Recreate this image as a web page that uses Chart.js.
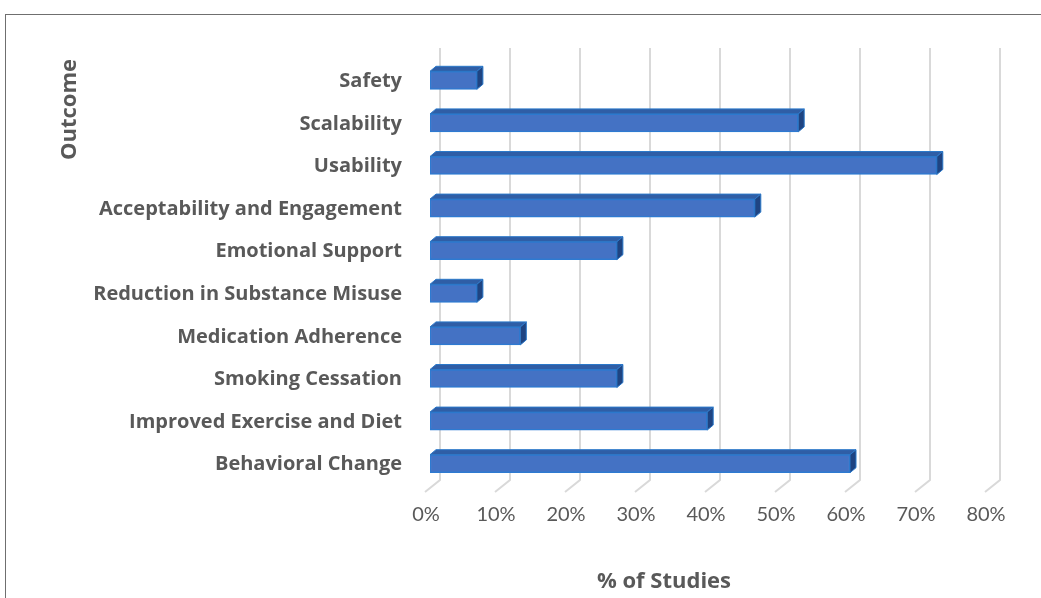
<!DOCTYPE html>
<html>
<head>
<meta charset="utf-8">
<script src="https://cdn.jsdelivr.net/npm/chart.js@4/dist/chart.umd.min.js"></script>
<style>
  html, body { margin: 0; padding: 0; background: #fff; overflow: hidden; }
  #wrap { position: relative; width: 1041px; height: 598px; }
  #frame { position: absolute; left: 5px; top: 14px; width: 1100px; height: 700px;
           border-left: 1.5px solid #6f6f6f; border-top: 1.5px solid #6f6f6f; }
  #c { position: absolute; left: 0; top: 0; }
  #xtitle { position: absolute; left: 514px; width: 300px; top: 565px; text-align: center;
            font: bold 22px "Open Sans", Lato, sans-serif; color: #595959; line-height: 28px; }
</style>
</head>
<body>
<div id="wrap">
  <div id="frame"></div>
  <canvas id="c" width="1041" height="598"></canvas>
  <div id="xtitle">% of Studies</div>
</div>
<script>
// ---- data ----
const categories = [
  'Safety',
  'Scalability',
  'Usability',
  'Acceptability and Engagement',
  'Emotional Support',
  'Reduction in Substance Misuse',
  'Medication Adherence',
  'Smoking Cessation',
  'Improved Exercise and Diet',
  'Behavioral Change'
];
const percentOfStudies = [6.7, 52.6, 72.4, 46.4, 26.7, 6.7, 12.9, 26.7, 39.6, 60.0];
const tickValues = [0, 10, 20, 30, 40, 50, 60, 70, 80];
const xAxisTitle = '% of Studies';
const yAxisTitle = 'Outcome';

const LABEL_FONT = '"Open Sans", Lato, sans-serif';
const TICK_FONT = 'Lato, "Open Sans", sans-serif';
const TEXT = '#595959';

// 3D-look helpers drawn from the library's own scales and bar elements
const excel3d = {
  id: 'excel3d',
  beforeDatasetsDraw(chart) {
    const ctx = chart.ctx;
    const xs = chart.scales.x;
    const area = chart.chartArea;
    ctx.save();
    ctx.strokeStyle = '#d9d9d9';
    ctx.lineWidth = 2;
    tickValues.forEach(v => {
      const px = xs.getPixelForValue(v);
      ctx.beginPath();
      ctx.moveTo(px + 10, area.top - 11);
      ctx.lineTo(px + 10, area.bottom - 5);
      ctx.lineTo(px - 5, area.bottom + 7);
      ctx.stroke();
    });
    ctx.restore();
  },
  afterDatasetsDraw(chart) {
    const ctx = chart.ctx;
    const meta = chart.getDatasetMeta(0);
    const dx = 6, dy = 5;
    ctx.save();
    meta.data.forEach(bar => {
      const p = bar.getProps(['x', 'y', 'base', 'height'], true);
      const top = p.y - p.height / 2, bottom = p.y + p.height / 2;
      const l = p.base, r = p.x;
      // top face
      ctx.beginPath();
      ctx.moveTo(l, top);
      ctx.lineTo(l + dx, top - dy);
      ctx.lineTo(r + dx, top - dy);
      ctx.lineTo(r, top);
      ctx.closePath();
      ctx.fillStyle = '#2f5ea6';
      ctx.fill();
      ctx.strokeStyle = '#2b78c9';
      ctx.lineWidth = 1;
      ctx.stroke();
      // side face
      ctx.beginPath();
      ctx.moveTo(r, top);
      ctx.lineTo(r + dx, top - dy);
      ctx.lineTo(r + dx, bottom - dy);
      ctx.lineTo(r, bottom);
      ctx.closePath();
      ctx.fillStyle = '#1f4482';
      ctx.fill();
      ctx.strokeStyle = '#2b78c9';
      ctx.stroke();
    });
    ctx.restore();
  }
};

new Chart(document.getElementById('c'), {
  type: 'bar',
  data: {
    labels: categories,
    datasets: [{
      data: percentOfStudies,
      backgroundColor: '#4472c4',
      borderColor: '#2e7ad1',
      borderWidth: 1.5,
      borderSkipped: false,
      barThickness: 18
    }]
  },
  options: {
    indexAxis: 'y',
    responsive: false,
    animation: false,
    devicePixelRatio: 1,
    layout: { padding: { left: 0, right: 51, top: 59, bottom: 0 } },
    plugins: { legend: { display: false }, tooltip: { enabled: false } },
    scales: {
      x: {
        position: 'bottom',
        min: 0, max: 80,
        afterBuildTicks(scale) { scale.ticks = tickValues.map(v => ({ value: v })); },
        afterFit(scale) { scale.height = 113; },
        grid: { display: false, drawTicks: false },
        border: { display: false },
        ticks: {
          callback: v => v + '%',
          color: TEXT,
          font: { family: TICK_FONT, size: 20 },
          padding: 18,
          labelOffset: -4,
          maxRotation: 0
        },
        title: { display: false, text: xAxisTitle }
      },
      y: {
        position: 'left',
        afterFit(scale) { scale.width = 430; },
        grid: { display: false, drawTicks: false },
        border: { display: false },
        ticks: {
          color: TEXT,
          font: { family: LABEL_FONT, size: 20, weight: 'bold' },
          padding: 28,
          labelOffset: 1
        },
        title: {
          display: true,
          text: yAxisTitle,
          align: 'end',
          color: TEXT,
          font: { family: LABEL_FONT, size: 22, weight: 'bold' },
          padding: { top: 57, bottom: 0 }
        }
      }
    }
  },
  plugins: [excel3d]
});
</script>
</body>
</html>
